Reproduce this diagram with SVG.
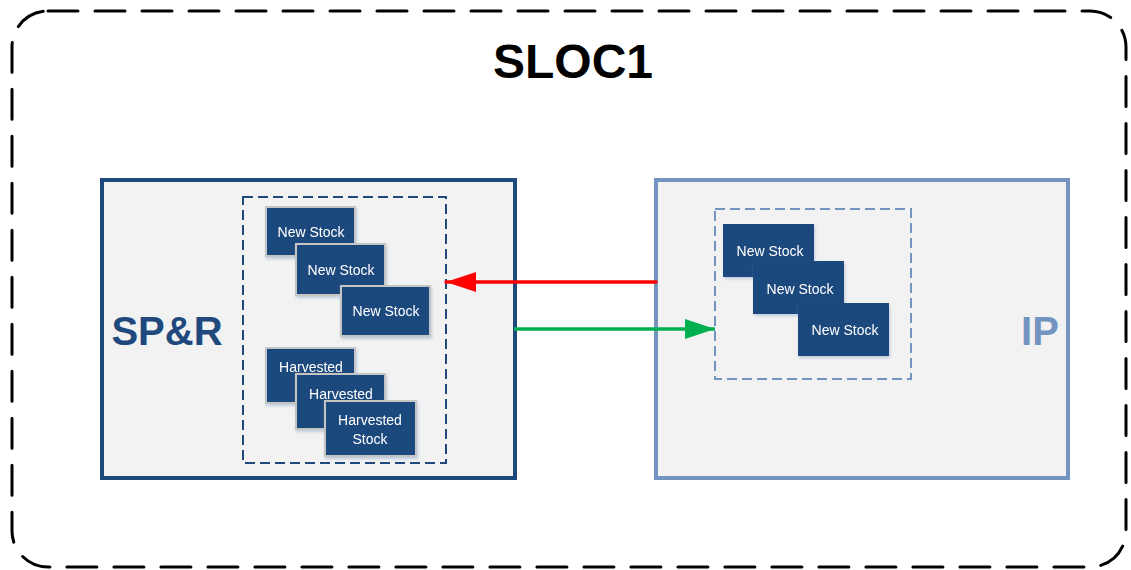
<svg xmlns="http://www.w3.org/2000/svg" width="1131" height="570" viewBox="0 0 1131 570">
<defs>
<style>
.node{fill:#1F497D}
.nodeb{fill:#1F497D;stroke:#C4C4C4;stroke-width:2}
.lbl{font-family:"Liberation Sans",Arial,sans-serif;font-size:14px;fill:#FFFFFF;text-anchor:middle}
.big{font-family:"Liberation Sans",Arial,sans-serif;font-weight:bold;text-anchor:middle}
</style>
<filter id="sh" x="-20%" y="-20%" width="140%" height="140%">
<feDropShadow dx="1" dy="2" stdDeviation="1.5" flood-color="#9DB3D0" flood-opacity="0.6"/>
</filter>
<marker id="ar" viewBox="0 0 30 20" refX="30" refY="10" markerWidth="30" markerHeight="20" markerUnits="userSpaceOnUse" orient="auto">
<path d="M0,0 L30,10 L0,20 Z" fill="#FF0000"/>
</marker>
<marker id="ag" viewBox="0 0 30 20" refX="30" refY="10" markerWidth="30" markerHeight="20" markerUnits="userSpaceOnUse" orient="auto">
<path d="M0,0 L30,10 L0,20 Z" fill="#00B050"/>
</marker>
</defs>
<rect width="1131" height="570" fill="#FFFFFF"/>
<g id="sloc1">
<rect x="12" y="11" width="1114" height="556" rx="36" ry="36" fill="none" stroke="#000000" stroke-width="3" stroke-dasharray="30 17" stroke-linecap="round"/>
<text class="big" x="573" y="78" font-size="48" fill="#000000">SLOC1</text>
</g>
<g id="spr">
<rect x="102" y="180" width="413" height="298" fill="#F2F2F2" stroke="#1F497D" stroke-width="4"/>
<text class="big" x="167" y="345" font-size="40" fill="#1F497D">SP&amp;R</text>
<rect x="243" y="197" width="203" height="266" fill="none" stroke="#1F497D" stroke-width="2" stroke-dasharray="10 5"/>
</g>
<g id="ip">
<rect x="656" y="180" width="412" height="298" fill="#F2F2F2" stroke="#7394C0" stroke-width="4"/>
<text class="big" x="1040" y="345" font-size="40" fill="#7394C0">IP</text>
<rect x="715" y="209" width="196" height="170" fill="none" stroke="#7394C0" stroke-width="2" stroke-dasharray="10 5"/>
</g>
<g id="spr-new1" filter="url(#sh)"><rect class="nodeb" x="266" y="207" width="89" height="49"/><text class="lbl" x="311" y="237">New Stock</text></g>
<g id="spr-new2" filter="url(#sh)"><rect class="nodeb" x="296" y="244" width="89" height="51"/><text class="lbl" x="341" y="275">New Stock</text></g>
<g id="spr-new3" filter="url(#sh)"><rect class="nodeb" x="341" y="286" width="89" height="50"/><text class="lbl" x="386" y="316">New Stock</text></g>
<g id="spr-harv1" filter="url(#sh)"><rect class="nodeb" x="266" y="348" width="89" height="55"/><text class="lbl" x="311" y="372">Harvested</text></g>
<g id="spr-harv2" filter="url(#sh)"><rect class="nodeb" x="296" y="374" width="89" height="55"/><text class="lbl" x="341" y="399">Harvested</text></g>
<g id="spr-harv3" filter="url(#sh)"><rect class="nodeb" x="325" y="401" width="91" height="55"/><text class="lbl" x="370" y="425">Harvested</text><text class="lbl" x="370" y="444">Stock</text></g>
<g id="ip-new1" filter="url(#sh)"><rect class="node" x="723" y="224" width="91" height="53"/><text class="lbl" x="770" y="256">New Stock</text></g>
<g id="ip-new2" filter="url(#sh)"><rect class="node" x="753" y="261" width="91" height="53"/><text class="lbl" x="800" y="294">New Stock</text></g>
<g id="ip-new3" filter="url(#sh)"><rect class="node" x="798" y="303" width="91" height="53"/><text class="lbl" x="845" y="335">New Stock</text></g>
<g id="connectors">
<line x1="656" y1="282" x2="446" y2="282" stroke="#FF0000" stroke-width="3.5" stroke-linecap="round" marker-end="url(#ar)"/>
<line x1="514" y1="329" x2="715" y2="329" stroke="#00B050" stroke-width="3.5" marker-end="url(#ag)"/>
</g>
</svg>
